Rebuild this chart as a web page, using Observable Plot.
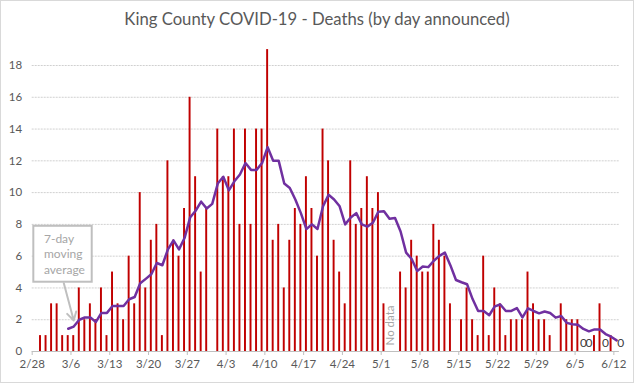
<!DOCTYPE html>
<html><head><meta charset="utf-8">
<script src="https://cdn.jsdelivr.net/npm/d3@7"></script>
<script src="https://cdn.jsdelivr.net/npm/@observablehq/plot@0.6"></script>
<style>
body{margin:0;background:#fff;}
#chart{position:relative;width:634px;height:383px;overflow:hidden;background:#fff;}
#chart::after{content:"";position:absolute;left:0;top:0;right:0;bottom:0;border:1px solid #d9d9d9;pointer-events:none;}
#chart svg{position:absolute;left:0;top:0;}
#title{position:absolute;left:0;top:9px;width:634px;text-align:center;font-family:Lato,sans-serif;font-size:16.7px;color:#595959;z-index:2;}
</style></head><body><div id="chart"><div id="title"></div></div>
<script>
const title = "King County COVID-19 - Deaths (by day announced)";

const days = ["2/28","2/29","3/1","3/2","3/3","3/4","3/5","3/6","3/7","3/8","3/9","3/10","3/11","3/12","3/13","3/14","3/15","3/16","3/17","3/18","3/19","3/20","3/21","3/22","3/23","3/24","3/25","3/26","3/27","3/28","3/29","3/30","3/31",
"4/1","4/2","4/3","4/4","4/5","4/6","4/7","4/8","4/9","4/10","4/11","4/12","4/13","4/14","4/15","4/16","4/17","4/18","4/19","4/20","4/21","4/22","4/23","4/24","4/25","4/26","4/27","4/28","4/29","4/30",
"5/1","5/2","5/3","5/4","5/5","5/6","5/7","5/8","5/9","5/10","5/11","5/12","5/13","5/14","5/15","5/16","5/17","5/18","5/19","5/20","5/21","5/22","5/23","5/24","5/25","5/26","5/27","5/28","5/29","5/30","5/31",
"6/1","6/2","6/3","6/4","6/5","6/6","6/7","6/8","6/9","6/10","6/11","6/12"];

const deaths = [0,1,1,3,3,1,1,1,4,2,3,2,4,1,5,3,2,6,3,10,4,7,8,1,12,7,6,9,16,11,5,9,0,
14,11,11,14,8,14,8,14,14,19,7,8,4,7,9,8,11,9,6,14,12,7,5,3,12,8,9,11,9,10,
3,null,null,5,4,7,6,5,5,8,7,6,3,0,2,4,2,1,6,1,4,3,1,2,2,2,5,3,2,2,1,
0,3,2,2,2,0,0,1,3,0,1,0];

const avgDays = days.slice(days.indexOf("3/5"));
const avgValues = [1.43,1.57,2.0,2.14,2.14,1.86,2.43,2.43,2.86,2.86,2.86,3.29,3.43,4.29,4.57,4.86,5.57,5.43,6.43,7.0,6.43,7.14,8.43,8.86,9.43,9.0,9.29,
10.57,11.0,10.14,10.71,11.14,11.86,11.43,11.43,11.86,12.86,12.0,12.0,10.57,10.29,9.57,8.71,7.71,8.0,7.71,9.14,9.86,9.57,9.14,8.0,8.43,8.71,8.0,7.86,8.1,8.8,
8.83,8.35,8.4,7.55,6.22,5.82,5.06,5.35,5.31,5.71,6.02,6.22,5.42,4.5,4.36,4.23,3.3,2.55,2.55,2.28,2.84,2.96,2.55,2.55,2.73,2.15,2.72,2.55,2.4,2.52,2.42,
2.13,2.23,1.8,1.72,1.69,1.42,1.27,1.39,1.39,1.1,0.93,0.7];

const xTicks = ["2/28","3/6","3/13","3/20","3/27","4/3","4/10","4/17","4/24","5/1","5/8","5/15","5/22","5/29","6/5","6/12"];
const yTicks = [0,2,4,6,8,10,12,14,16,18];
const zeroLabelDays = ["6/6","6/7","6/10","6/12"];
const noDataDays = ["5/2"];
const noteLines = ["7-day","moving","average"];

const parse = s => { const [m, d] = s.split("/").map(Number); return new Date(Date.UTC(2020, m - 1, d)); };
const at = (s, h) => d3.utcHour.offset(parse(s), h);

const bars = days.map((d, i) => ({date: parse(d), value: deaths[i]})).filter(d => d.value != null && d.value > 0);
const avg = avgDays.map((d, i) => ({date: at(d, 12), value: avgValues[i]}));

const xStart = parse("2/28"), xEnd = d3.utcDay.offset(parse("6/12"), 1);

const note = {x1: at("2/28", 7), x2: at("3/9", 20), y1: 4.36, y2: 7.88,
  tx: at("3/1", 3), ty: 6.17, ax1: at("3/4", 17), ay1: 4.3, ax2: at("3/6", 12), ay2: 1.95};

document.getElementById("title").textContent = title;

const chart = Plot.plot({
  width: 634, height: 383,
  marginLeft: 31.7, marginRight: 15.1, marginTop: 65, marginBottom: 32,
  x: {type: "utc", domain: [xStart, xEnd]},
  y: {domain: [0, 18]},
  style: {fontFamily: "Lato, sans-serif", fontSize: "11px", color: "#595959", background: "transparent", overflow: "visible"},
  marks: [
    Plot.gridY(yTicks.filter(v => v > 0), {stroke: "#d0d0d0", strokeOpacity: 1, strokeDasharray: "2,1"}),
    Plot.axisY({ticks: yTicks, tickSize: 0, tickPadding: 10, label: null, fill: "#595959", fontSize: 11.5}),
    Plot.rectY(bars, {x1: "date", x2: d => d3.utcDay.offset(d.date, 1), y: "value", fill: "#c00000", insetLeft: 1.8, insetRight: 1.8}),
    Plot.ruleY([0], {stroke: "#bfbfbf"}),
    Plot.axisX({ticks: xTicks.map(parse), tickFormat: (d, i) => xTicks[i], tickSize: 4, tickPadding: 4, stroke: "#bfbfbf", fill: "#595959", label: null, fontSize: 11.5}),
    Plot.lineY(avg, {x: "date", y: "value", stroke: "#7030a0", strokeWidth: 2.5, strokeLinejoin: "round"}),
    Plot.text(zeroLabelDays, {x: d => at(d, d === "6/12" ? 30 : 12), y: 0, text: () => "0", dy: -8, fill: "#404040", fontSize: 12}),
    Plot.text(noDataDays, {x: d => at(d, 14), y: 1.64, text: () => "No data", rotate: -90, fill: "#a6a6a6", fontSize: 11.5}),
    Plot.rect([note], {x1: "x1", x2: "x2", y1: "y1", y2: "y2", fill: "white", stroke: "#bfbfbf", strokeWidth: 2}),
    Plot.text([note], {x: "tx", y: "ty", text: () => noteLines.join("\n"), textAnchor: "start", lineAnchor: "middle", lineHeight: 1.27, fill: "#a6a6a6", fontSize: 12}),
    Plot.arrow([note], {x1: "ax1", y1: "ay1", x2: "ax2", y2: "ay2", stroke: "#bfbfbf", strokeWidth: 2, headLength: 7})
  ]
});
document.getElementById("chart").appendChild(chart);
</script>
</body></html>
